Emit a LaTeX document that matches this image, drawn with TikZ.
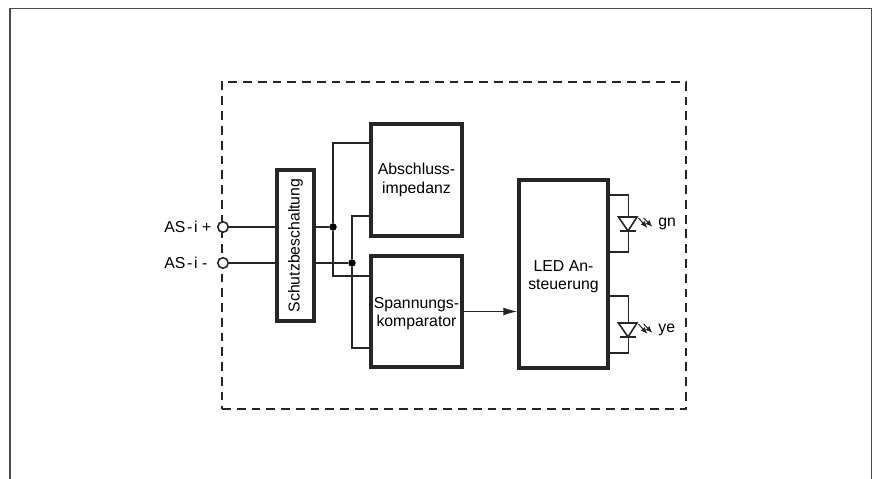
\documentclass[tikz,border=0pt]{standalone}
\usepackage{fontspec}
\setmainfont{Liberation Sans}
\usetikzlibrary{arrows.meta, positioning, calc}

\begin{document}
\begin{tikzpicture}[
    font=\fontsize{9pt}{10.4pt}\selectfont,
    block/.style={draw=black!85, line width=1.9pt, fill=white, align=center, inner sep=0pt},
    wire/.style={draw=black!85, line width=0.85pt},
    arr/.style={wire, -{Latex[length=2.8mm,width=1.6mm]}},
    term/.style={circle, draw=black!85, line width=0.9pt, fill=white, minimum size=0.21cm, inner sep=0pt},
    junc/.style={circle, fill=black, minimum size=0.15cm, inner sep=0pt},
    lbl/.style={inner sep=0pt, align=left},
    ledtri/.style={draw=black!85, line width=0.9pt, fill=white, line join=miter},
    ray/.style={draw=black!85, line width=0.6pt, -{Latex[length=1.4mm,width=1.1mm]}}
]
\useasboundingbox (0,0) rectangle (17.48,9.58);

% Outer frame, open at the bottom
\draw[draw=black!70, line width=0.6pt] (0.2,0) -- (0.2,9.41) -- (17.43,9.41) -- (17.43,0);

% Dashed housing
\node[draw=black!85, line width=0.7pt, dash pattern=on 5pt off 3.4pt, minimum width=9.28cm,
      minimum height=6.54cm, inner sep=0pt] (housing) at (9.08,4.67) {};

% Blocks
\node[block, minimum width=0.74cm, minimum height=3.02cm] (schutz) at (5.91,4.67)
    {\rotatebox{90}{Schutzbeschaltung}};
\node[block, minimum width=1.82cm, minimum height=2.24cm] (abschluss) at (8.33,5.98)
    {Abschluss-\\impedanz};
\node[block, minimum width=1.82cm, minimum height=2.22cm] (spannung) at (8.33,3.35)
    {\rule{0pt}{8.8pt}Spannungs-\\komparator};
\node[block, minimum width=1.78cm, minimum height=3.76cm] (led) at (11.27,4.10)
    {\rule{0pt}{9.3pt}LED An-\\steuerung};

% Terminals and junctions
\node[term] (plus)  at (4.46,5.04) {};
\node[term] (minus) at (4.46,4.32) {};
\node[junc] (jplus)  at (6.66,5.04) {};
\node[junc] (jminus) at (7.04,4.32) {};
\node[lbl, anchor=west] (lplus)  at (3.28,5.04) {AS\kern1pt-\kern1pt i +};
\node[lbl, anchor=west] (lminus) at (3.28,4.32) {AS\kern1pt-\kern1pt i -};

% Input wires
\draw[wire] (plus) -- (plus -| schutz.west);
\draw[wire] (minus) -- (minus -| schutz.west);
\draw[wire] (plus -| schutz.east) -- (jplus);
\draw[wire] (minus -| schutz.east) -- (jminus);

% Feeds to both blocks
\draw[wire] ([yshift=7.4mm]abschluss.west) -| (jplus) |- ([yshift=7.1mm]spannung.west);
\draw[wire] ([yshift=-7.2mm]abschluss.west) -| (jminus) |- ([yshift=-7.3mm]spannung.west);

% Comparator --> LED driver
\draw[arr] (spannung.east) -- (spannung.east -| led.west);

% LED loops
\coordinate (gntop) at ([yshift=15.8mm]led.east);
\coordinate (gnbot) at ([yshift=4.4mm]led.east);
\coordinate (yetop) at ([yshift=-4.4mm]led.east);
\coordinate (yebot) at ([yshift=-15.8mm]led.east);
\draw[wire] (gntop) -- ++(0.38,0) |- (gnbot);
\draw[wire] (yetop) -- ++(0.38,0) |- (yebot);

% LED symbols
\foreach \name/\ledy in {gn/5.24, ye/3.12} {
    \draw[ledtri] (12.37,\ledy) -- (12.74,\ledy) -- (12.56,\ledy-0.28) -- cycle;
    \draw[wire, line width=0.9pt] (12.40,\ledy-0.28) -- (12.71,\ledy-0.28);
    \draw[ray] (12.77,\ledy-0.02) -- (12.95,\ledy-0.22);
    \draw[ray] (12.87,\ledy-0.02) -- (13.05,\ledy-0.20);
    \node[lbl, anchor=west] (l\name) at (13.16,\ledy-0.14) {\name};
}
\end{tikzpicture}
\end{document}
